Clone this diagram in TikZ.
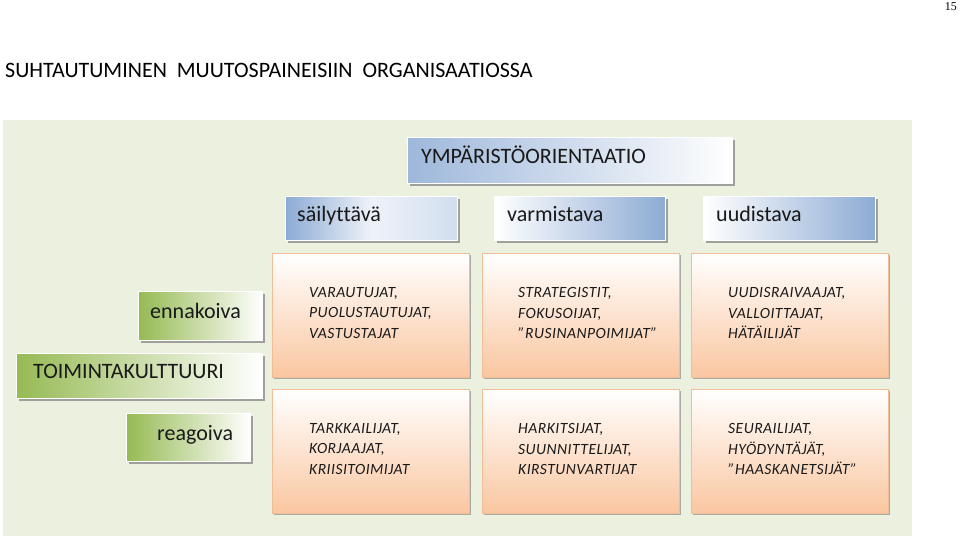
\documentclass[tikz,border=0pt]{standalone}
\usepackage{fontspec}
\setmainfont{Carlito}[Ligatures=CommonOff]
\newfontfamily\pagefont{Liberation Serif}
\newfontfamily\boxfont{Carlito}[Ligatures=CommonOff, LetterSpace=3]
\usetikzlibrary{shadows}
\definecolor{bgc}{RGB}{235,241,222}
\definecolor{bluec}{RGB}{141,171,212}
\definecolor{greenc}{RGB}{150,186,84}
\definecolor{peachc}{RGB}{250,198,160}
\definecolor{peachline}{RGB}{240,190,150}
\begin{document}
\begin{tikzpicture}[x=1pt,y=-1pt,
  frame/.style={rectangle, anchor=north west, draw=white, line width=1.2pt, inner sep=0pt,
    drop shadow={shadow xshift=2.5pt, shadow yshift=-2.5pt, fill=black!45, opacity=0.8}},
  bluebox/.style={frame},
  greenbox/.style={frame},
  peachbox/.style={rectangle, anchor=north west, draw=peachline, line width=0.8pt, inner sep=0pt,
    top color=white, bottom color=peachc, minimum width=197pt, minimum height=124pt,
    drop shadow={shadow xshift=2pt, shadow yshift=-2pt, fill=black!40, opacity=0.8}},
  lbl/.style={anchor=base west, font=\fontsize{22}{24}\selectfont, inner sep=0pt, text=black!90},
  itl/.style={anchor=west, align=left, font=\boxfont\fontsize{15.6}{20.5}\selectfont\itshape, inner sep=0pt, text=black!90}
]
\useasboundingbox (0,0) rectangle (960,538);
\fill[white] (0,0) rectangle (960,538);
\node[anchor=north east, inner sep=0pt, font=\pagefont\fontsize{12}{12}\selectfont] (pg) at (957,2) {15};
\node[anchor=base west, inner sep=0pt, font=\fontsize{22}{24}\selectfont] (title) at (5,77)
  {SUHTAUTUMINEN\ \ MUUTOSPAINEISIIN\ \ ORGANISAATIOSSA};
\fill[bgc] (3,120) rectangle (912,536);

% environment orientation
\node[bluebox, left color=bluec!85, right color=white, minimum width=325pt, minimum height=46pt] (ymp) at (407,137) {};
\node[lbl] (ympt) at (421,163) {YMPÄRISTÖORIENTAATIO};
\node[bluebox, left color=bluec, right color=bluec!40, middle color=white!85!bluec, minimum width=172pt, minimum height=44pt] (sail) at (285,196) {};
\node[lbl] (sailt) at (297,221) {säilyttävä};
\node[bluebox, left color=white, right color=bluec, minimum width=171pt, minimum height=44pt] (varm) at (494,196) {};
\node[lbl] (varmt) at (507,221) {varmistava};
\node[bluebox, left color=white, right color=bluec, minimum width=172pt, minimum height=44pt] (uud) at (703,196) {};
\node[lbl] (uudt) at (716,221) {uudistava};

% culture
\node[greenbox, left color=greenc, right color=white, minimum width=124pt, minimum height=49pt] (enn) at (138,291) {};
\node[lbl] (ennt) at (150,318) {ennakoiva};
\node[greenbox, left color=greenc, right color=white, minimum width=246pt, minimum height=45pt] (toim) at (16,353) {};
\node[lbl] (toimt) at (33,378) {TOIMINTAKULTTUURI};
\node[greenbox, left color=greenc, right color=white, minimum width=124pt, minimum height=48pt] (reag) at (126,413) {};
\node[lbl] (reagt) at (157,440) {reagoiva};

% matrix
\node[peachbox] (o11) at (272,253) {};
\node[peachbox] (o12) at (482,253) {};
\node[peachbox] (o13) at (691,253) {};
\node[peachbox] (o21) at (272,389) {};
\node[peachbox] (o22) at (482,389) {};
\node[peachbox] (o23) at (691,389) {};

\node[itl] (t11) at (309,313) {VARAUTUJAT,\\PUOLUSTAUTUJAT,\\VASTUSTAJAT};
\node[itl] (t12) at (518,313) {STRATEGISTIT,\\FOKUSOIJAT,\\”RUSINANPOIMIJAT”};
\node[itl] (t13) at (728,313) {UUDISRAIVAAJAT,\\VALLOITTAJAT,\\HÄTÄILIJÄT};
\node[itl] (t21) at (309,449) {TARKKAILIJAT,\\KORJAAJAT,\\KRIISITOIMIJAT};
\node[itl] (t22) at (518,449) {HARKITSIJAT,\\SUUNNITTELIJAT,\\KIRSTUNVARTIJAT};
\node[itl] (t23) at (728,449) {SEURAILIJAT,\\HYÖDYNTÄJÄT,\\”HAASKANETSIJÄT”};
\end{tikzpicture}
\end{document}
